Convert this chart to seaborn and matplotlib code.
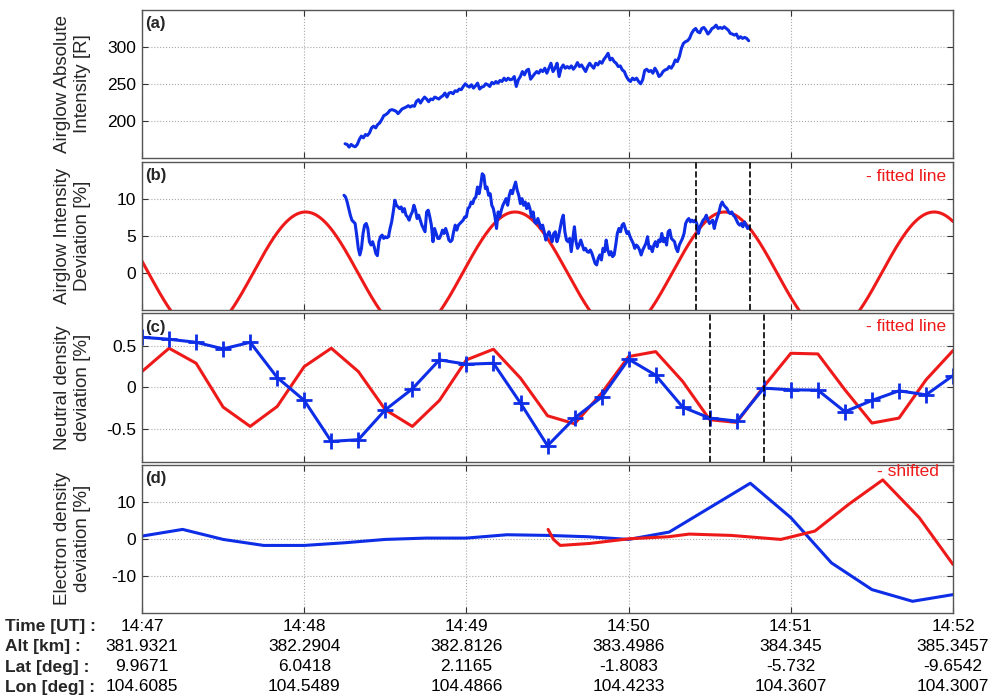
import numpy as np
import matplotlib
matplotlib.use("Agg")
import matplotlib.pyplot as plt
import seaborn as sns

# ---------------- data (time axis in seconds after 14:47:00 UT) ----------------
TICK_SECONDS = [0, 60, 120, 180, 240, 300]
TIME_LABELS = ["14:47", "14:48", "14:49", "14:50", "14:51", "14:52"]
ALT_LABELS = ["381.9321", "382.2904", "382.8126", "383.4986", "384.345", "385.3457"]
LAT_LABELS = ["9.9671", "6.0418", "2.1165", "-1.8083", "-5.732", "-9.6542"]
LON_LABELS = ["104.6085", "104.5489", "104.4866", "104.4233", "104.3607", "104.3007"]
ROW_NAMES = ["Time [UT] :", "Alt [km] :", "Lat [deg] :", "Lon [deg] :"]

# (a) airglow absolute intensity [R], evenly sampled between A_START and A_END
A_START, A_END = 75.1, 224.4
A_VALUES = [
    169.2, 168.3, 164.7, 168.3, 166.1, 165.2, 168.3, 175.0, 179.5, 177.2,
    181.7, 180.4, 183.9, 190.6, 192.9, 190.6, 195.1, 197.3, 201.8, 207.1,
    208.5, 210.7, 214.3, 215.2, 214.3, 213.0, 209.8, 213.0, 216.1, 217.4,
    218.7, 220.5, 218.7, 220.5, 219.6, 226.3, 228.6, 224.1, 228.6, 232.1,
    229.5, 225.9, 229.5, 228.6, 232.1, 230.8, 229.5, 232.1, 233.9, 237.5,
    232.1, 237.5, 238.4, 236.6, 240.6, 239.7, 242.9, 242.0, 246.4, 250.0,
    247.3, 245.5, 248.7, 244.2, 247.3, 250.9, 242.9, 245.5, 246.4, 250.0,
    248.7, 246.4, 251.8, 250.0, 253.1, 250.9, 254.5, 253.1, 257.6, 254.5,
    257.6, 255.4, 256.2, 259.8, 246.4, 255.4, 259.8, 266.5, 262.0, 267.9,
    269.6, 256.2,
    259.8, 263.4, 266.5, 264.3, 268.7, 266.5, 271.0, 264.3, 271.0, 277.7,
    266.5, 271.0, 277.7, 259.8, 271.0, 275.4, 271.0, 273.2, 271.0, 274.1,
    269.6, 273.2, 278.6, 273.2, 275.4, 271.0, 266.5, 273.2, 277.7, 274.1,
    271.0, 277.7, 275.4, 279.9, 277.7, 283.0, 286.6, 291.1, 282.1, 284.4,
    279.9, 277.7, 273.2, 274.1, 268.7, 266.5, 259.8, 255.4, 253.1, 257.6,
    255.4, 257.6, 253.1, 250.0, 255.4, 267.9, 269.6, 266.5, 267.9, 264.3,
    271.0, 266.5, 259.8, 262.0, 266.5, 268.7, 269.6, 273.2, 271.0, 275.4,
    282.1, 279.9, 286.6, 297.8, 304.5, 306.7, 308.0, 311.2, 317.9, 322.3,
    324.5, 320.1, 318.7, 324.5, 325.9, 322.3, 317.0, 320.1, 324.5, 325.9,
    329.0, 324.5, 325.9, 324.5, 326.8, 324.5, 322.3, 317.9, 317.0, 315.6,
    317.0, 311.2, 313.4, 311.2, 312.5, 311.2, 308.0,
]

# (b) airglow intensity deviation [%], evenly sampled between B_START and B_END
B_START, B_END = 74.7, 224.6
B_VALUES = [
    10.45, 10.22, 9.55, 8.66, 7.77, 7.10, 6.87, 6.65, 5.09, 3.30,
    2.41, 3.30, 5.31, 6.43, 6.65, 5.98, 4.20, 3.75, 4.20, 3.53,
    2.63, 2.32, 4.20, 4.87, 5.09, 4.64, 4.87, 4.73, 4.87, 5.98,
    6.87, 8.21, 9.78, 9.11, 8.88, 8.66, 8.88, 8.21, 8.66, 7.77,
    7.54, 7.10, 7.77, 8.21, 9.11, 8.44, 7.32, 7.77, 7.10, 6.43,
    5.98, 5.54, 8.21, 8.44, 7.54, 6.43, 4.20, 5.98, 5.31, 4.64,
    4.64, 5.09, 5.76, 5.31, 5.98, 5.31, 4.42, 4.20, 4.42, 5.54,
    6.43, 5.76, 6.43, 6.65, 6.87, 7.10, 7.54, 7.54, 8.66, 8.88,
    9.55, 9.33, 10.00, 10.22, 11.56, 10.67, 11.79, 13.35, 13.12, 11.34,
    11.56, 10.45, 10.67, 9.11, 8.66, 7.54, 5.98, 8.21, 7.54, 8.44,
    9.11, 9.55, 10.00, 9.11, 10.45, 11.12, 10.67, 11.56, 12.23, 11.12,
    10.45, 9.33, 10.00, 9.11, 9.55, 8.66, 9.33, 8.66, 7.54, 8.21,
    6.87, 6.65, 7.32, 6.65, 5.98, 6.43, 5.54, 4.42, 5.09, 5.54,
    4.87, 4.20,
    5.31, 5.54, 4.20, 4.87, 5.98, 7.10, 7.77, 5.54, 4.42, 4.20,
    4.64, 2.86, 4.64, 6.21, 4.20, 3.30, 3.75, 4.42, 3.75, 3.08,
    3.30, 2.86, 2.77, 3.08, 2.63, 1.96, 1.29, 1.07, 1.96, 2.41,
    1.74, 3.30, 2.86, 4.42, 3.08, 2.41, 2.86, 2.19, 2.41, 3.75,
    5.31, 5.98, 5.54, 6.43, 6.65, 5.98, 5.31, 5.54, 4.87, 4.42,
    3.97, 3.30, 3.75, 3.53, 3.08, 2.41, 3.08, 3.53, 3.97, 4.87,
    3.30, 3.53, 2.86, 3.75, 4.20, 3.53, 4.42, 4.20, 5.31, 4.20,
    4.64, 3.75, 5.54, 5.76, 4.64, 4.42, 4.20, 3.30, 2.86, 3.75,
    4.20, 4.64, 5.31, 6.65, 7.10, 7.32, 6.87, 7.10, 6.87, 7.10,
    6.65, 5.31, 6.21, 6.65, 7.10, 7.32, 7.77, 7.10, 6.65, 6.87,
    7.10, 5.98, 6.87, 7.54, 8.21, 9.11, 9.55, 9.11, 8.88, 8.66,
    8.21, 7.99, 8.21, 7.77, 7.54, 7.10, 6.65, 6.43, 6.65, 6.21,
    6.87, 6.43, 5.98, 6.21,
]
# sinusoid fitted to the airglow deviation
FIT_AMPLITUDE = 8.2   # %
FIT_PERIOD = 77.5     # s
FIT_PEAK_TIME = 60.5  # s
B_WINDOW = [205, 225]

# (c) neutral density deviation [%], 10 s cadence
C_TIMES = list(range(0, 301, 10))
C_OBS = [0.609, 0.585, 0.548, 0.468, 0.548, 0.121, -0.157, -0.653, -0.633, -0.270,
         -0.016, 0.335, 0.282, 0.294, -0.190, -0.706, -0.371, -0.117, 0.343, 0.149,
         -0.238, -0.371, -0.407, -0.008, -0.028, -0.032, -0.294, -0.157, -0.040, -0.089,
         0.145]
C_FIT = [0.194, 0.476, 0.294, -0.238, -0.472, -0.230, 0.254, 0.476, 0.194, -0.270,
         -0.472, -0.157, 0.335, 0.464, 0.113, -0.343, -0.440, -0.069, 0.375, 0.435,
         0.073, -0.391, -0.423, 0.012, 0.415, 0.407, -0.028, -0.431, -0.371, 0.093,
         0.448]
C_WINDOW = [210, 230]

# (d) electron density deviation [%], 15 s cadence, and the time-shifted series
D_TIMES = list(range(0, 301, 15))
D_OBS = [0.72, 2.52, -0.18, -1.80, -1.80, -1.08, -0.18, 0.18, 0.18, 1.08,
         0.90, 0.54, -0.18, 1.80, 8.38, 14.96, 5.68, -6.49, -13.70, -16.85,
         -15.05]
D_SHIFT_TIMES = [150.2, 152.2, 154.7, 165.7, 180.2, 194.7, 202.4, 217.9,
                 236.3, 248.9, 261.4, 274.0, 287.5, 300.0]
D_SHIFT = [2.52, -0.18, -1.80, -1.26, 0.0, 0.54, 1.26, 0.90,
           -0.18, 2.07, 9.28, 15.86, 5.68, -6.94]

# ---------------- style ----------------
BLUE = "#0d2de6"
RED = "#ee1a1a"
sns.set_theme(style="white")
plt.rcParams["font.family"] = ["Liberation Sans", "DejaVu Sans"]
plt.rcParams["axes.unicode_minus"] = False

fig = plt.figure(figsize=(10.01, 6.98), dpi=100)
fig.patch.set_facecolor("white")
left, width, height = 0.1419, 0.8102, 0.2127
bottoms = [0.7736, 0.5559, 0.3385, 0.1218]
axes = [fig.add_axes([left, b, width, height]) for b in bottoms]

LW = 2.2
ax_a, ax_b, ax_c, ax_d = axes

# (a)
t_a = np.linspace(A_START, A_END, len(A_VALUES))
sns.lineplot(x=t_a, y=A_VALUES, ax=ax_a, color=BLUE, linewidth=LW,
             estimator=None, sort=False)
ax_a.set_ylim(150, 350)
ax_a.set_yticks([200, 250, 300])
ax_a.set_ylabel("Airglow Absolute\nIntensity [R]")

# (b)
t_b = np.linspace(B_START, B_END, len(B_VALUES))
t_fit = np.linspace(0, 300, 901)
fit_b = FIT_AMPLITUDE * np.cos(2 * np.pi * (t_fit - FIT_PEAK_TIME) / FIT_PERIOD)
sns.lineplot(x=t_fit, y=fit_b, ax=ax_b, color=RED, linewidth=LW,
             estimator=None, sort=False)
sns.lineplot(x=t_b, y=B_VALUES, ax=ax_b, color=BLUE, linewidth=LW,
             estimator=None, sort=False)
for t in B_WINDOW:
    ax_b.axvline(t, color="black", ls="--", lw=1.2, zorder=5)
ax_b.set_ylim(-5, 15)
ax_b.set_yticks([0, 5, 10])
ax_b.set_ylabel("Airglow Intensity\nDeviation [%]")
ax_b.text(0.992, 0.900, "- fitted line", color=RED, transform=ax_b.transAxes,
          ha="right", va="center", fontsize=12.5)

# (c)
sns.lineplot(x=C_TIMES, y=C_FIT, ax=ax_c, color=RED, linewidth=LW,
             estimator=None, sort=False)
sns.lineplot(x=C_TIMES, y=C_OBS, ax=ax_c, color=BLUE, linewidth=LW,
             marker="+", markersize=11, markeredgewidth=2, markeredgecolor=BLUE,
             estimator=None, sort=False)
for t in C_WINDOW:
    ax_c.axvline(t, color="black", ls="--", lw=1.2, zorder=5)
ax_c.set_ylim(-0.9, 0.9)
ax_c.set_yticks([-0.5, 0, 0.5])
ax_c.set_yticklabels(["-0.5", "0", "0.5"])
ax_c.set_ylabel("Neutral density\ndeviation [%]")
ax_c.text(0.992, 0.912, "- fitted line", color=RED, transform=ax_c.transAxes,
          ha="right", va="center", fontsize=12.5)

# (d)
sns.lineplot(x=D_TIMES, y=D_OBS, ax=ax_d, color=BLUE, linewidth=LW,
             estimator=None, sort=False)
sns.lineplot(x=D_SHIFT_TIMES, y=D_SHIFT, ax=ax_d, color=RED, linewidth=LW,
             estimator=None, sort=False)
ax_d.set_ylim(-20, 20)
ax_d.set_yticks([-10, 0, 10])
ax_d.set_ylabel("Electron density\ndeviation [%]")
ax_d.text(0.983, 0.955, "- shifted", color=RED, transform=ax_d.transAxes,
          ha="right", va="center", fontsize=12.5)

# shared formatting
for ax, tag in zip(axes, ["(a)", "(b)", "(c)", "(d)"]):
    ax.set_xlim(0, 300)
    ax.set_xticks(TICK_SECONDS)
    ax.set_xlabel("")
    ax.grid(True, ls=":", lw=0.8, color="#a8a8a8")
    ax.tick_params(direction="in", length=4, width=0.8, top=True, right=True,
                   bottom=True, left=True, labelsize=12.5, colors="#333333",
                   labelcolor="black", pad=4)
    for sp in ax.spines.values():
        sp.set_color("#555555")
        sp.set_linewidth(1.0)
    ax.yaxis.label.set_size(13.5)
    ax.yaxis.label.set_linespacing(1.2)
    ax.yaxis.set_label_coords(-0.063, 0.5)
    ax.text(0.004, 0.955, tag, transform=ax.transAxes, fontweight="bold",
            fontsize=12, ha="left", va="top", zorder=6)
    if ax is not ax_d:
        ax.set_xticklabels([])

table_labels = ["\n".join(col) for col in zip(TIME_LABELS, ALT_LABELS, LAT_LABELS, LON_LABELS)]
ax_d.set_xticklabels(table_labels, fontsize=12.5, linespacing=1.44)
fig.text(5 / 1001, 0.1130, "\n".join(ROW_NAMES), fontsize=12.5, fontweight="bold",
         ha="left", va="top", linespacing=1.44)

fig.savefig("out.png", dpi=100, facecolor="white")
